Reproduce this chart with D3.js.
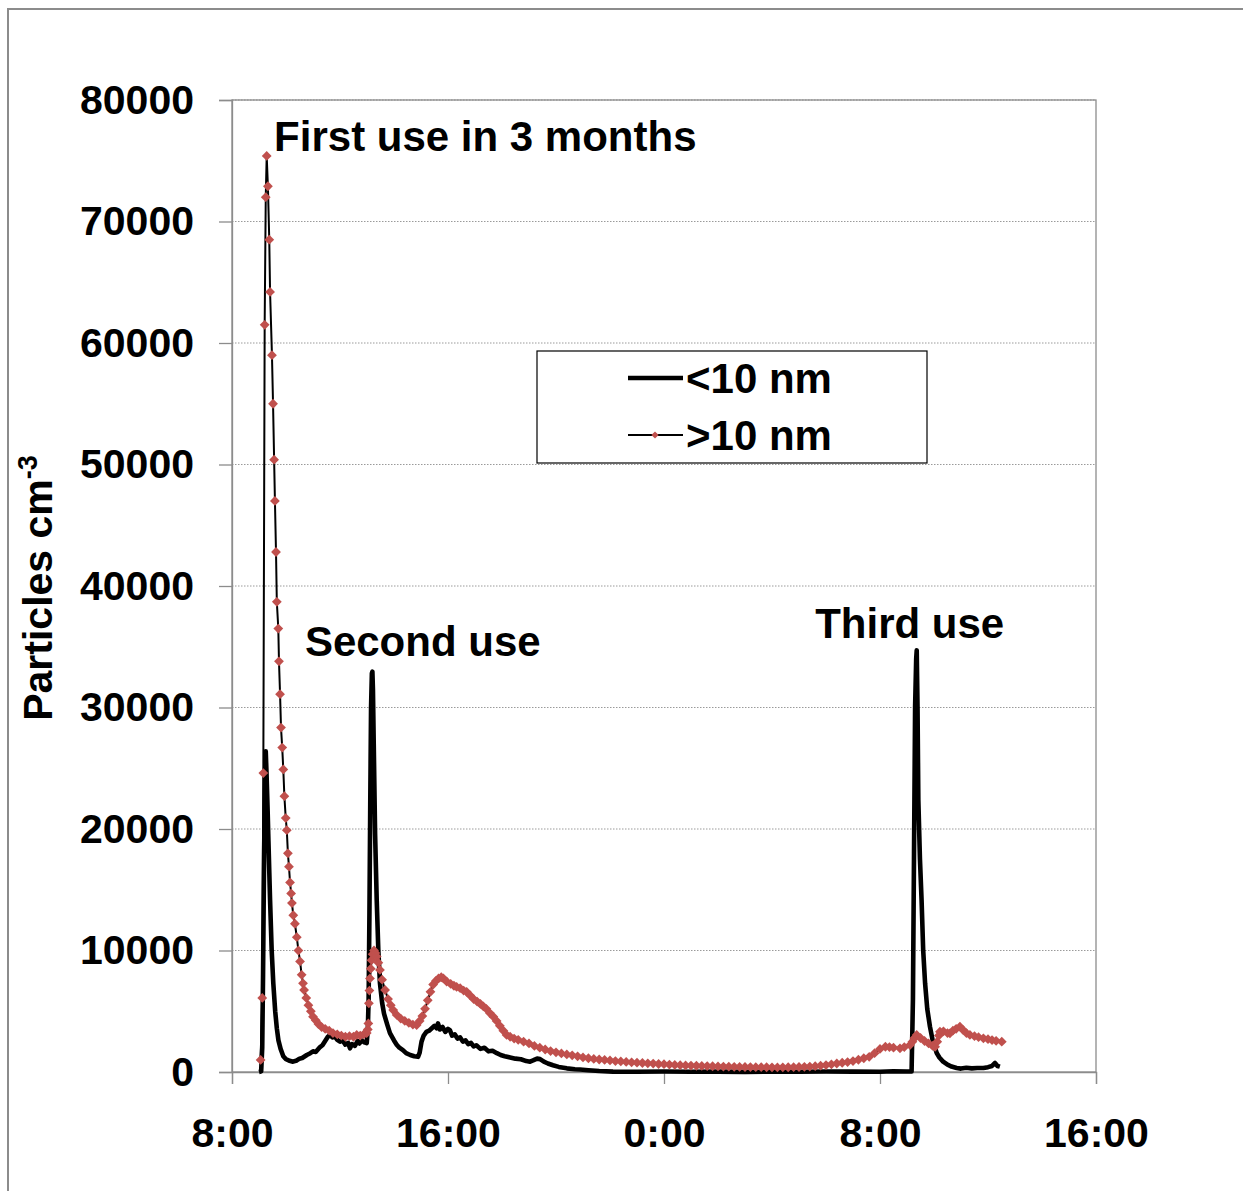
<!DOCTYPE html>
<html>
<head>
<meta charset="utf-8">
<script src="https://cdn.jsdelivr.net/npm/d3@7"></script>
<style>
  body { margin: 0; background: #fff; }
  svg { display: block; font-family: "Liberation Sans", Arial, sans-serif; font-weight: bold; }
</style>
</head>
<body>
<div id="chart"></div>
<script>
// hours counted from midnight of day one (32 = 8:00 next day)
var xTicks = [8, 16, 24, 32, 40]
var xTickLabels = ["8:00", "16:00", "0:00", "8:00", "16:00"]
var yTicks = [0, 10000, 20000, 30000, 40000, 50000, 60000, 70000, 80000]

var seriesNames = ["<10 nm", ">10 nm"]

// <10 nm  [hour, particles per cm3]
var smallParticles = [
  [9.00, 0], [9.08, 50], [9.12, 2000], [9.15, 8000], [9.19, 18000], [9.22, 24000],
  [9.25, 26400], [9.28, 24500], [9.32, 21500], [9.35, 19000], [9.41, 14150],
  [9.47, 10000], [9.53, 7300], [9.60, 5000], [9.66, 3600], [9.72, 2600], [9.80, 1900],
  [9.90, 1300], [10.0, 1050], [10.1, 950], [10.26, 850], [10.4, 950], [10.5, 1100],
  [10.6, 1150], [10.77, 1400], [10.9, 1550], [11.0, 1700], [11.1, 1650], [11.26, 2050],
  [11.35, 2200], [11.45, 2550], [11.55, 2900], [11.63, 3050], [11.72, 2850], [11.8, 2950],
  [11.9, 2650], [12.0, 2500], [12.1, 2600], [12.2, 2250], [12.3, 2400], [12.37, 1950],
  [12.45, 2300], [12.55, 2150], [12.65, 2550], [12.72, 2350], [12.8, 2600], [12.9, 2450],
  [12.99, 2380], [13.03, 3500], [13.06, 6000], [13.09, 13000], [13.12, 22000],
  [13.15, 30000], [13.18, 32800], [13.2, 32950], [13.22, 31500], [13.25, 27000],
  [13.3, 19600], [13.36, 14150], [13.42, 10000], [13.48, 7300], [13.56, 5700],
  [13.63, 4800], [13.75, 3900], [13.85, 3200], [14.0, 2600], [14.1, 2250], [14.2, 2000],
  [14.33, 1800], [14.45, 1550], [14.6, 1400], [14.75, 1300], [14.89, 1250], [14.95, 1600],
  [15.02, 2500], [15.1, 3000], [15.2, 3300], [15.3, 3400], [15.4, 3600], [15.5, 3800],
  [15.58, 3600], [15.63, 4000], [15.7, 3500], [15.8, 3700], [15.9, 3300], [16.0, 3550],
  [16.07, 3450], [16.15, 3000], [16.25, 3100], [16.35, 2750], [16.45, 2850], [16.55, 2500],
  [16.65, 2600], [16.75, 2300], [16.85, 2400], [16.95, 2100], [17.05, 2200], [17.2, 1900],
  [17.35, 2000], [17.5, 1700], [17.65, 1750], [17.81, 1550], [17.95, 1400], [18.1, 1300],
  [18.3, 1200], [18.5, 1100], [18.7, 1050], [18.9, 900], [19.04, 850], [19.15, 950],
  [19.3, 1100], [19.41, 1060], [19.55, 850], [19.7, 700], [19.89, 560], [20.1, 420],
  [20.4, 300], [20.7, 230], [20.89, 200], [21.2, 150], [21.6, 80], [22.11, 30], [23, 20],
  [24, 40], [25, 20], [26, 30], [27, 10], [28, 30], [29, 20], [30, 40], [31, 30], [32, 20],
  [32.5, 60], [33.0, 40], [33.17, 50], [33.22, 6000], [33.26, 18000], [33.3, 30000],
  [33.34, 34000], [33.36, 34700], [33.39, 30000], [33.42, 22400], [33.48, 17500],
  [33.54, 14150], [33.6, 10000], [33.67, 7300], [33.75, 5200], [33.85, 3730], [33.95, 2600],
  [34.1, 1560], [34.2, 1200], [34.34, 850], [34.5, 600], [34.65, 450], [34.84, 330],
  [35.0, 280], [35.2, 350], [35.4, 300], [35.6, 330], [35.83, 330], [36.0, 400],
  [36.15, 500], [36.26, 740], [36.35, 500], [36.44, 440]
]

// >10 nm  [hour, particles per cm3]
var largeParticles = [
  [9.06, 990], [9.12, 6100], [9.16, 24600], [9.21, 61500], [9.25, 72000], [9.285, 75400],
  [9.33, 72900], [9.38, 68500], [9.41, 64200], [9.48, 59000], [9.52, 55000], [9.56, 50400],
  [9.59, 47000], [9.63, 42800], [9.66, 38700], [9.715, 36500], [9.74, 33800], [9.78, 31100],
  [9.815, 28350], [9.86, 26700], [9.90, 24900], [9.94, 22700], [9.99, 20900], [10.03, 19900],
  [10.07, 18000], [10.11, 16900], [10.15, 15600], [10.19, 14700], [10.22, 13900],
  [10.27, 12900], [10.33, 12200], [10.40, 11100], [10.46, 10000], [10.52, 9100],
  [10.58, 8000], [10.63, 7300], [10.67, 6750], [10.75, 6100], [10.83, 5500], [10.92, 5000],
  [11.0, 4550], [11.1, 4250], [11.2, 3950], [11.32, 3700], [11.45, 3550], [11.6, 3400],
  [11.74, 3200], [11.9, 3100], [12.05, 3000], [12.2, 2900], [12.35, 2950], [12.5, 2900],
  [12.62, 3050], [12.75, 3000], [12.88, 3100], [12.99, 3200], [13.03, 3500], [13.05, 4000],
  [13.07, 5650], [13.09, 6700], [13.11, 7700], [13.14, 8500], [13.17, 9200], [13.21, 9700],
  [13.26, 10000], [13.31, 9800], [13.36, 9500], [13.42, 9000], [13.48, 8400], [13.56, 7600],
  [13.67, 6750], [13.78, 6000], [13.88, 5500], [13.97, 5100], [14.1, 4700], [14.25, 4400],
  [14.4, 4200], [14.55, 4050], [14.7, 3900], [14.84, 3870], [14.95, 4200], [15.05, 4600],
  [15.15, 5200], [15.25, 5900], [15.35, 6600], [15.45, 7200], [15.55, 7500], [15.65, 7700],
  [15.75, 7800], [15.83, 7700], [15.95, 7450], [16.1, 7250], [16.22, 7100], [16.32, 7000],
  [16.45, 6900], [16.58, 6700], [16.69, 6600], [16.82, 6300], [16.95, 6000], [17.08, 5800],
  [17.2, 5600], [17.31, 5400], [17.42, 5200], [17.55, 4850], [17.68, 4550], [17.8, 4200],
  [17.92, 3800], [18.05, 3400], [18.17, 3050], [18.3, 2900], [18.45, 2750], [18.6, 2650],
  [18.8, 2500], [19.0, 2350], [19.2, 2150], [19.4, 2000], [19.6, 1850], [19.8, 1720],
  [20.0, 1620], [20.2, 1530], [20.4, 1450], [20.6, 1370], [20.8, 1290], [21.0, 1200],
  [21.2, 1130], [21.4, 1080], [21.6, 1030], [21.8, 990], [22.0, 950], [22.2, 900],
  [22.4, 870], [22.6, 830], [22.8, 800], [23.0, 770], [23.2, 740], [23.4, 710], [23.6, 690],
  [23.8, 660], [24.0, 640], [24.2, 610], [24.4, 580], [24.6, 560], [24.8, 545], [25.0, 530],
  [25.2, 515], [25.4, 500], [25.6, 490], [25.8, 475], [26.0, 460], [26.2, 450], [26.4, 440],
  [26.6, 430], [26.8, 420], [27.0, 410], [27.2, 405], [27.4, 400], [27.6, 395], [27.8, 390],
  [28.0, 385], [28.2, 380], [28.4, 385], [28.6, 390], [28.8, 400], [29.0, 410], [29.2, 425],
  [29.4, 450], [29.6, 480], [29.8, 520], [30.0, 570], [30.2, 630], [30.4, 700], [30.6, 760],
  [30.8, 820], [31.0, 900], [31.2, 1010], [31.4, 1130], [31.6, 1250], [31.8, 1550],
  [32.0, 1900], [32.2, 2080], [32.35, 2050], [32.5, 2000], [32.74, 1950], [32.9, 2050],
  [33.11, 2220], [33.2, 2500], [33.28, 2800], [33.36, 3050], [33.5, 2800], [33.65, 2550],
  [33.8, 2350], [33.95, 2150], [34.04, 2080], [34.12, 2500], [34.18, 3000], [34.22, 3320],
  [34.35, 3350], [34.5, 3200], [34.59, 3180], [34.7, 3400], [34.82, 3550], [34.96, 3730],
  [35.08, 3450], [35.2, 3200], [35.33, 3050], [35.5, 2950], [35.65, 2870], [35.83, 2770],
  [36.0, 2700], [36.15, 2630], [36.3, 2570], [36.51, 2500]
]

var annotations = [
  { text: "First use in 3 months", hour: 9.56, value: 75800 },
  { text: "Second use", hour: 10.7, value: 34240 },
  { text: "Third use", hour: 29.6, value: 35720 }
]

var margin = { top: 100, left: 232, right: 147, bottom: 119 },
    width = 1243 - margin.left - margin.right,
    height = 1191 - margin.top - margin.bottom

var red = "#c0504d"

var svg = d3.select("#chart")
    .append("svg")
    .attr("width", 1243)
    .attr("height", 1191)

// outer frame, runs off the right and bottom edges
svg.append("rect")
    .attr("x", 8)
    .attr("y", 9)
    .attr("width", 1400)
    .attr("height", 1400)
    .attr("fill", "none")
    .attr("stroke", "#8c8c8c")
    .attr("stroke-width", 2)

var container = svg.append("g")
    .attr("transform", "translate(" + margin.left + "," + margin.top + ")")

var xScale = d3.scaleLinear()
    .domain([8, 40])
    .range([0, width])

var yScale = d3.scaleLinear()
    .domain([0, 80000])
    .range([height, 0])

// dotted gridlines
container.selectAll(".grid")
    .data(yTicks.slice(1))
    .enter().append("line")
    .attr("class", "grid")
    .attr("x1", 0)
    .attr("x2", width)
    .attr("y1", function(d) { return yScale(d) })
    .attr("y2", function(d) { return yScale(d) })
    .attr("stroke", "#9a9a9a")
    .attr("stroke-width", 1)
    .attr("stroke-dasharray", "1.5,1.5")

container.append("rect")
    .attr("width", width)
    .attr("height", height)
    .attr("fill", "none")
    .attr("stroke", "#8c8c8c")
    .attr("stroke-width", 1.3)

var xAxis = d3.axisBottom(xScale)
    .tickValues(xTicks)
    .tickFormat(function(d, i) { return xTickLabels[i] })
    .tickSize(12)
    .tickPadding(34)

var yAxis = d3.axisLeft(yScale)
    .tickValues(yTicks)
    .tickFormat(d3.format("d"))
    .tickSize(13)
    .tickPadding(25)

container.append("g")
    .attr("transform", "translate(0," + height + ")")
    .call(xAxis)

container.append("g")
    .call(yAxis)

container.selectAll(".domain").attr("stroke", "#8c8c8c").attr("stroke-width", 1.3)
container.selectAll(".tick line").attr("stroke", "#8c8c8c").attr("stroke-width", 1.3)
container.selectAll(".tick text")
    .attr("font-family", "Liberation Sans, Arial, sans-serif")
    .attr("font-weight", "bold")
    .attr("font-size", "41px")
    .attr("fill", "#000")

var line = d3.line()
    .x(function(d) { return xScale(d[0]) })
    .y(function(d) { return yScale(d[1]) })

container.append("path")
    .datum(smallParticles)
    .attr("d", line)
    .attr("fill", "none")
    .attr("stroke", "#000")
    .attr("stroke-width", 4.6)
    .attr("stroke-linejoin", "round")

container.append("path")
    .datum(largeParticles)
    .attr("d", line)
    .attr("fill", "none")
    .attr("stroke", "#000")
    .attr("stroke-width", 2)

var diamond = d3.symbol().type(d3.symbolSquare).size(48)

container.selectAll(".marker")
    .data(largeParticles)
    .enter().append("path")
    .attr("class", "marker")
    .attr("d", diamond)
    .attr("transform", function(d) {
      return "translate(" + xScale(d[0]) + "," + yScale(d[1]) + ") rotate(45)"
    })
    .attr("fill", red)

container.selectAll(".note")
    .data(annotations)
    .enter().append("text")
    .attr("class", "note")
    .attr("x", function(d) { return xScale(d.hour) })
    .attr("y", function(d) { return yScale(d.value) })
    .attr("font-size", "42px")
    .text(function(d) { return d.text })

// legend
var legend = svg.append("g")
    .attr("transform", "translate(537,351)")

legend.append("rect")
    .attr("width", 390)
    .attr("height", 112)
    .attr("fill", "#fff")
    .attr("stroke", "#000")
    .attr("stroke-width", 1.2)

legend.append("line")
    .attr("x1", 91).attr("x2", 146)
    .attr("y1", 27).attr("y2", 27)
    .attr("stroke", "#000")
    .attr("stroke-width", 4.6)

legend.append("line")
    .attr("x1", 91).attr("x2", 146)
    .attr("y1", 84).attr("y2", 84)
    .attr("stroke", "#000")
    .attr("stroke-width", 2)

legend.append("path")
    .attr("d", d3.symbol().type(d3.symbolSquare).size(26))
    .attr("transform", "translate(118,84) rotate(45)")
    .attr("fill", red)

legend.selectAll(".legend-label")
    .data(seriesNames)
    .enter().append("text")
    .attr("class", "legend-label")
    .attr("x", 149)
    .attr("y", function(d, i) { return 42 + i * 57 })
    .attr("font-size", "42px")
    .text(function(d) { return d })

// y axis title with superscript
var yTitle = svg.append("text")
    .attr("transform", "translate(52,588) rotate(-90)")
    .attr("text-anchor", "middle")
    .attr("font-size", "41px")

yTitle.append("tspan").text("Particles cm")
yTitle.append("tspan")
    .attr("dy", "-0.55em")
    .attr("font-size", "27px")
    .text("-3")
</script>
</body>
</html>
